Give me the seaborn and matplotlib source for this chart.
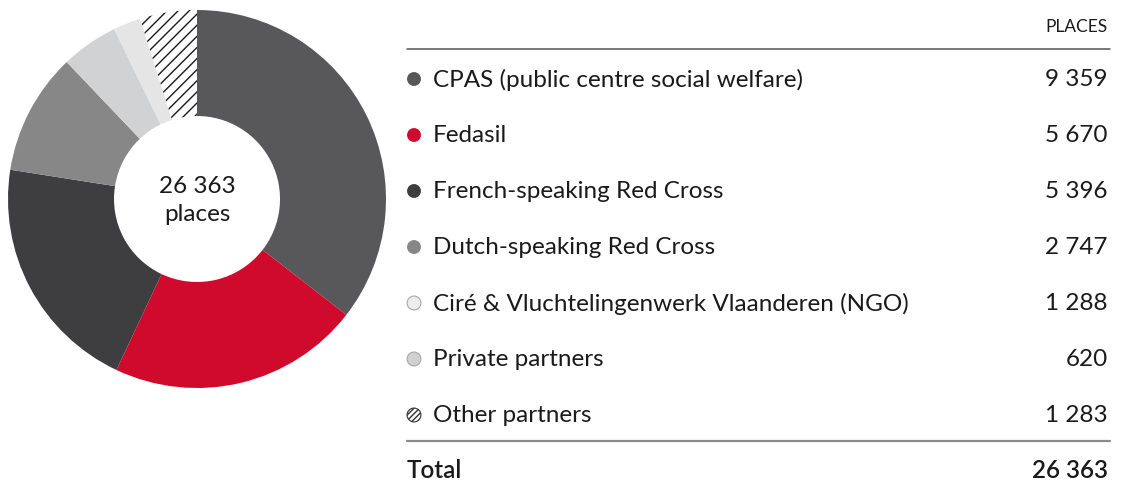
import matplotlib.pyplot as plt
import pandas as pd
import seaborn as sns

plt.switch_backend('agg')

# data
partners = ["CPAS (public centre social welfare)", "Fedasil", "French-speaking Red Cross",
            "Dutch-speaking Red Cross", "Ciré & Vluchtelingenwerk Vlaanderen (NGO)",
            "Private partners", "Other partners"]
places = [9359, 5670, 5396, 2747, 1288, 620, 1283]
total = 26363
header = "PLACES"

wedge_colors = ["#58585a", "#cf0a2c", "#3e3e40", "#878787", "#d1d2d4", "#e4e5e4", "white"]
marker_colors = ["#58585a", "#cf0a2c", "#3e3e40", "#878787", "#ededed", "#d0d0d0", "white"]


def fmt(v):
    return f"{v:,}".replace(",", " ")


sns.set_theme(style="white")
plt.rcParams['font.family'] = ['Lato', 'DejaVu Sans']
txt = "#1a1a1a"
fs = 17.5

W, H = 1122, 481
fig = plt.figure(figsize=(W / 100, H / 100), dpi=100)

# donut
R = 189
cx, cy = 197, 200
pax = fig.add_axes([(cx - R) / W, (H - cy - R) / H, 2 * R / W, 2 * R / H])
wedges, _ = pax.pie(places, colors=wedge_colors, startangle=90, counterclock=False,
                    wedgeprops=dict(width=106 / R, linewidth=0))
wedges[-1].set_hatch("///")
wedges[-1].set_edgecolor("#1a1a1a")
wedges[-1].set_linewidth(0)
pax.set_xlim(-1, 1)
pax.set_ylim(-1, 1)
pax.set_aspect("equal")
pax.text(0, 0.07, fmt(total), ha="center", va="center", fontsize=fs, color=txt)
pax.text(0, -0.075, "places", ha="center", va="center", fontsize=fs, color=txt)

# table, in pixel coordinates
ax = fig.add_axes([0, 0, 1, 1])
df = pd.DataFrame({"partner": partners, "places": places})
df["row"] = 80 + 56 * df.index

sns.scatterplot(data=df, x=[414] * len(df), y="row", hue="partner", palette=marker_colors,
                s=100, linewidth=0, legend=False, ax=ax)
ax.scatter([414, 414], df.row[4:6], s=100, facecolor="none", edgecolor="#a8a8a8", linewidth=0.8)
ax.scatter([414], [df.row.iloc[-1]], s=100, facecolor="white", edgecolor="#333333",
           hatch="//////", linewidth=0.8)
ax.set_xlim(0, W)
ax.set_ylim(H, 0)
ax.axis("off")

ax.text(1108, 27, header, ha="right", va="center", fontsize=12.5, color=txt)
ax.plot([407, 1110], [50, 50], color="#555555", lw=1.1)
ax.plot([407, 1110], [442, 442], color="#8a8a8a", lw=1.6)

for i, r in df.iterrows():
    ax.text(433, r.row, r.partner, ha="left", va="center", fontsize=fs, color=txt)
    ax.text(1108, r.row, fmt(r.places), ha="right", va="center", fontsize=fs, color=txt)

ax.text(407, 471, "Total", ha="left", va="center", fontsize=fs, color=txt, fontweight="semibold")
ax.text(1108, 471, fmt(total), ha="right", va="center", fontsize=fs, color=txt, fontweight="semibold")

fig.savefig("out.png", dpi=100)
